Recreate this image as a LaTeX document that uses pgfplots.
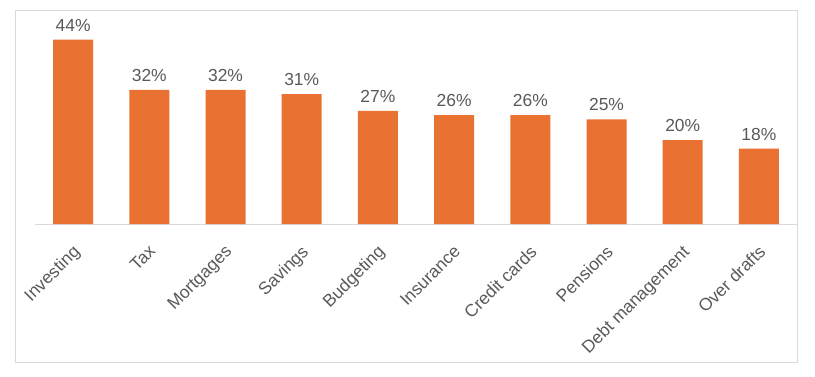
\documentclass[border=0pt]{standalone}
\usepackage{pgfplots}
\pgfplotsset{compat=1.18}
\usepackage{fontspec}
\setmainfont{Liberation Sans}
\definecolor{barorange}{HTML}{E97132}
\definecolor{labelgray}{HTML}{595959}
\definecolor{framegray}{HTML}{D9D9D9}
\begin{document}
\begin{tikzpicture}[x=1bp,y=1bp]
\path (0,0) rectangle (815,376);
\draw[framegray, line width=1bp] (15,14) rectangle (797,365);
\begin{axis}[
  at={(35bp,152bp)}, anchor=south west,
  scale only axis, width=762bp, height=209.5bp,
  xmin=-0.5, xmax=9.5, ymin=0, ymax=50,
  axis y line=none, axis x line=bottom,
  x axis line style={draw=framegray, line width=1bp, -},
  xtick={0,...,9},
  xticklabels={Investing,Tax,Mortgages,Savings,Budgeting,Insurance,Credit cards,Pensions,Debt management,Over drafts},
  major tick length=0pt,
  xticklabel style={rotate=45, anchor=north east, inner sep=0pt, font=\fontsize{17.5}{20}\selectfont, text=labelgray, xshift=-15bp, yshift=-13bp},
  ybar, bar width=40bp,
  /pgf/number format/assume math mode=true,
  nodes near coords={\pgfmathprintnumber{\pgfplotspointmeta}\%},
  every node near coord/.append style={font=\fontsize{17.5}{20}\selectfont, text=labelgray, anchor=south, inner sep=0pt, yshift=8bp},
  clip=false,
]
\addplot[fill=barorange, draw=none] coordinates {
(0,44) (1,32) (2,32) (3,31) (4,27) (5,26) (6,26) (7,25) (8,20) (9,18)
};
\end{axis}
\end{tikzpicture}
\end{document}
